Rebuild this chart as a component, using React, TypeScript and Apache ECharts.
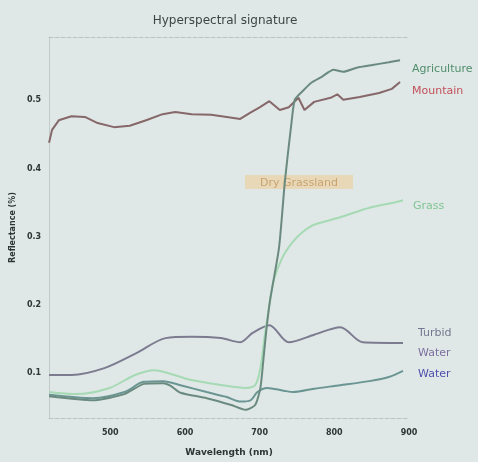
import React, { useEffect, useRef } from "react";
import * as echarts from "echarts";

const xTicks = [500, 600, 700, 800, 900];
const yTicks = [0.1, 0.2, 0.3, 0.4, 0.5];

const agriWl = [418, 477, 519, 545, 571, 581, 594, 629, 662, 681, 694, 701, 705, 709, 714, 726, 734, 743, 747, 756, 769, 782, 799, 812, 830, 851, 873, 888];
const agriVal = [0.066, 0.06, 0.069, 0.084, 0.085, 0.081, 0.071, 0.063, 0.053, 0.046, 0.053, 0.078, 0.119, 0.163, 0.207, 0.284, 0.383, 0.47, 0.5, 0.511, 0.525, 0.533, 0.544, 0.541, 0.547, 0.551, 0.555, 0.558];

const mountWl = [418, 422, 431, 448, 466, 483, 505, 526, 548, 570, 587, 609, 635, 656, 674, 687, 700, 713, 727, 739, 752, 760, 773, 795, 804, 812, 834, 860, 877, 888];
const mountVal = [0.437, 0.456, 0.47, 0.476, 0.475, 0.466, 0.46, 0.462, 0.47, 0.479, 0.482, 0.479, 0.478, 0.475, 0.472, 0.481, 0.489, 0.498, 0.485, 0.489, 0.503, 0.485, 0.497, 0.503, 0.508, 0.5, 0.504, 0.51, 0.516, 0.526];

const grassWl = [418, 454, 499, 533, 559, 577, 607, 650, 681, 694, 701, 706, 712, 719, 730, 743, 756, 773, 808, 847, 882, 892];
const grassVal = [0.072, 0.069, 0.078, 0.097, 0.104, 0.1, 0.09, 0.082, 0.078, 0.082, 0.107, 0.148, 0.192, 0.236, 0.268, 0.29, 0.305, 0.317, 0.328, 0.342, 0.35, 0.353];

const turbidWl = [418, 448, 492, 535, 574, 609, 648, 674, 691, 713, 739, 773, 808, 838, 892];
const turbidVal = [0.097, 0.097, 0.107, 0.129, 0.151, 0.153, 0.151, 0.145, 0.159, 0.17, 0.145, 0.156, 0.167, 0.145, 0.144];

const waterWl = [418, 477, 519, 545, 571, 594, 629, 655, 675, 688, 697, 710, 732, 745, 773, 808, 847, 873, 892];
const waterVal = [0.068, 0.063, 0.072, 0.087, 0.088, 0.082, 0.072, 0.065, 0.058, 0.06, 0.072, 0.078, 0.074, 0.072, 0.077, 0.082, 0.088, 0.094, 0.103];

const zip = (xs: number[], ys: number[]) => xs.map((x, i) => [x, ys[i]]);

const FONT = "DejaVu Sans";

export default function App() {
  const ref = useRef<HTMLDivElement>(null);
  useEffect(() => {
    if (!ref.current) return;
    const chart = echarts.init(ref.current, undefined, { renderer: "svg" });
    const line = (name: string, data: number[][], color: string, smooth: number | boolean, z = 2) => ({
      type: "line",
      name,
      data,
      showSymbol: false,
      smooth,
      z,
      lineStyle: { color, width: 2 },
    });
    const label = (text: string, x: number, y: number, fill: string, size = 11) => ({
      type: "text",
      x,
      y,
      style: { text, fill, font: `${size}px ${FONT}`, textVerticalAlign: "middle", textAlign: "left" },
    });
    chart.setOption({
      animation: false,
      backgroundColor: "#dfe8e6",
      grid: { left: 40, right: 69, top: 37, bottom: 44 },
      xAxis: [
        {
          type: "value",
          min: 418,
          max: 900,
          name: "Wavelength (nm)",
          nameLocation: "middle",
          nameGap: 29,
          nameTextStyle: { fontFamily: FONT, fontSize: 9, fontWeight: "bold", color: "#2f3535" },
          axisLine: { show: true, lineStyle: { color: "#b9c2c1", type: "dashed", width: 1 } },
          axisTick: { show: false, customValues: xTicks },
          axisLabel: { customValues: xTicks, margin: 10, fontFamily: FONT, fontSize: 8, fontWeight: "bold", color: "#2f3535" },
          splitLine: { show: false },
        },
        {
          type: "value",
          position: "top",
          min: 418,
          max: 900,
          axisLine: { show: true, lineStyle: { color: "#b9c2c1", type: "dashed", width: 1 } },
          axisTick: { show: false },
          axisLabel: { show: false },
          splitLine: { show: false },
        },
      ],
      yAxis: {
        type: "value",
        min: 0.034,
        max: 0.592,
        name: "Reflectance (%)",
        nameLocation: "middle",
        nameGap: 28,
        nameTextStyle: { fontFamily: FONT, fontSize: 8, fontWeight: "bold", color: "#2f3535" },
        axisLine: { show: true, lineStyle: { color: "#c3cbca", width: 1 } },
        axisTick: { show: false, customValues: yTicks },
        axisLabel: {
          customValues: yTicks,
          margin: 8,
          fontFamily: FONT,
          fontSize: 8,
          fontWeight: "bold",
          color: "#2f3535",
          formatter: (v: number) => v.toFixed(1),
        },
        splitLine: { show: false },
      },
      graphic: [
        {
          type: "text",
          x: 225,
          y: 20,
          style: { text: "Hyperspectral signature", fill: "#3e4444", font: `12px ${FONT}`, textAlign: "center", textVerticalAlign: "middle" },
        },
        {
          type: "rect",
          shape: { x: 245, y: 175, width: 108, height: 14 },
          style: { fill: "#e8d8b8" },
        },
        {
          type: "text",
          x: 299,
          y: 182,
          style: { text: "Dry Grassland", fill: "#c9a370", font: `11px ${FONT}`, textAlign: "center", textVerticalAlign: "middle" },
        },
        label("Agriculture", 412, 68, "#4f8d6c"),
        label("Mountain", 412, 90, "#c2505c"),
        label("Grass", 413, 205, "#7fc594"),
        label("Turbid", 418, 332, "#767891"),
        label("Water", 418, 352, "#7c6ea0"),
        label("Water", 418, 373, "#4f4fae"),
      ],
      series: [
        line("Turbid Water", zip(turbidWl, turbidVal), "#7c7b90", 0.3),
        line("Mountain", zip(mountWl, mountVal), "#86676a", false),
        line("Grass", zip(grassWl, grassVal), "#a6dab5", 0.3),
        line("Water", zip(waterWl, waterVal), "#6a9592", 0.3),
        line("Agriculture", zip(agriWl, agriVal), "#6b8a7f", 0.2, 3),
      ],
    });
    return () => chart.dispose();
  }, []);
  return (
    <div style={{ position: "fixed", left: 0, top: 0, width: 493, height: 462, background: "#ffffff" }}>
      <div ref={ref} style={{ width: 478, height: 462, filter: "blur(0.6px)" }} />
    </div>
  );
}
